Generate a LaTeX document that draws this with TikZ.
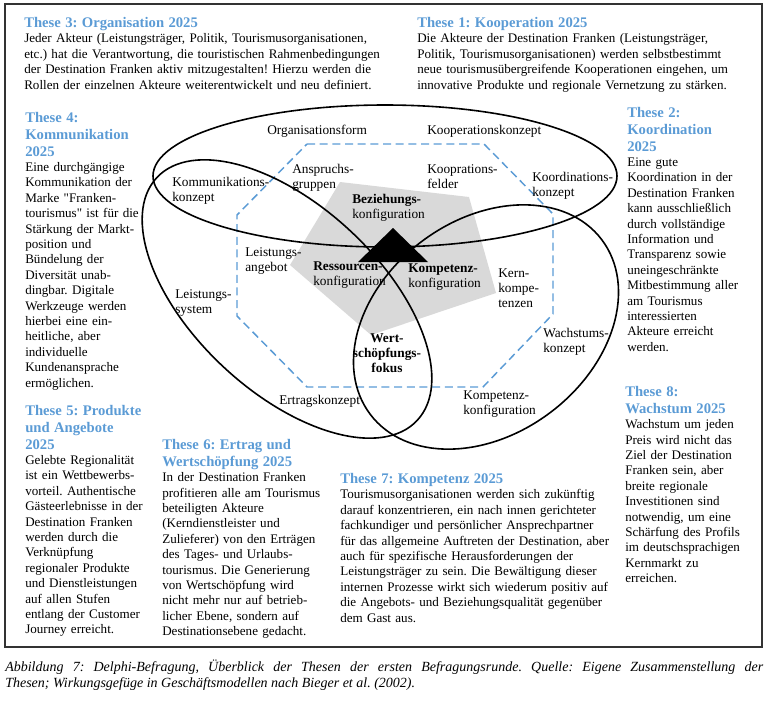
\documentclass[tikz,border=0pt]{standalone}
\usepackage{fontspec}
\setmainfont{Liberation Serif}
\usetikzlibrary{positioning}
\definecolor{headblue}{HTML}{5B9BD5}
\definecolor{konfgrau}{HTML}{D9D9D9}
\frenchspacing
\newcommand{\bodyfont}{\fontsize{9.8}{11.55}\selectfont}
\newcommand{\headfont}{\fontsize{11}{12.6}\selectfont\bfseries}
\newcommand{\lblfont}{\fontsize{10}{11.25}\selectfont}
\newcommand{\capfont}{\fontsize{10.5}{12.4}\selectfont\itshape}
\newcommand{\thesehead}[1]{{\noindent\headfont\color{headblue}#1\par}}
\tikzset{these/.style={anchor=base west,inner sep=0pt,text width=280pt,align=left,font=\bodyfont},
lbl/.style={anchor=base west,inner sep=0pt,text width=90pt,align=left,font=\lblfont},
kreis/.style={line width=1.2pt},
rahmen/.style={draw=headblue,line width=1.1pt,dash pattern=on 6pt off 3.5pt}}

\begin{document}
\begin{tikzpicture}[x=0.75pt,y=-0.75pt]
\useasboundingbox (0,0) rectangle (768,703);
\draw[black!80,line width=1pt] (5,4) rectangle (762,647);
% Konfigurationen
\fill[konfgrau] (340,182) -- (469,197) -- (496,293) -- (371,335) -- (290,265) -- cycle;
\draw[rahmen] (307,144) -- (484,144) -- (553,214) -- (553,314) -- (483,387) -- (307,387) -- (237,316) -- (237,215) -- cycle;
\draw[kreis] (385,176) ellipse [x radius=174pt, y radius=53.25pt];
\draw[kreis,rotate around={-43:(287,299)}] (287,299) ellipse [x radius=133.5pt, y radius=69.75pt];
\draw[kreis,rotate around={37:(486,327)}] (486,327) ellipse [x radius=108.75pt, y radius=80.25pt];
\fill (393,228) -- (428,262) -- (358,262) -- cycle;
% Beschriftung
\node[lbl] (orgform) at (267,134.5) {Organisationsform};
\node[lbl] (koopkonzept) at (427,134.5) {Kooperationskonzept};
\node[lbl] (anspruch) at (292,173.5) {Anspruchs-\\gruppen};
\node[lbl] (koopfelder) at (427,173.5) {Kooprations-\\felder};
\node[lbl] (koordkonzept) at (532,181.5) {Koordinations-\\konzept};
\node[lbl] (kommkonzept) at (172,186.5) {Kommunikations-\\konzept};
\node[lbl] (bezkonf) at (352,203.5) {\textbf{Beziehungs-}\\konfiguration};
\node[lbl] (leistangebot) at (245,256.5) {Leistungs-\\angebot};
\node[lbl] (reskonf) at (313,270.5) {\textbf{Ressourcen-}\\konfiguration};
\node[lbl] (kompkonf) at (408,272.5) {\textbf{Kompetenz-}\\konfiguration};
\node[lbl] (kernkomp) at (498,277.5) {Kern-\\kompe-\\tenzen};
\node[lbl] (leistsystem) at (175,298.5) {Leistungs-\\system};
\node[lbl,anchor=base,align=center,font=\lblfont\bfseries] (wertfokus) at (387,342.5) {Wert-\\schöpfungs-\\fokus};
\node[lbl] (wachskonzept) at (543,337.5) {Wachstums-\\konzept};
\node[lbl] (ertragkonzept) at (279,404.5) {Ertragskonzept};
\node[lbl] (kompkonf2) at (463,399.5) {Kompetenz-\\konfiguration};
% Thesen
\node[these] (t3) at (24,27.5) {\thesehead{These 3: Organisation 2025}
Jeder Akteur (Leistungsträger, Politik, Tourismusorganisationen,\\
etc.) hat die Verantwortung, die touristischen Rahmenbedingungen\\
der Destination Franken aktiv mitzugestalten! Hierzu werden die\\
Rollen der einzelnen Akteure weiterentwickelt und neu definiert.};
\node[these] (t1) at (417,27.5) {\thesehead{These 1: Kooperation 2025}
Die Akteure der Destination Franken (Leistungsträger,\\
Politik, Tourismusorganisationen) werden selbstbestimmt\\
neue tourismusübergreifende Kooperationen eingehen, um\\
innovative Produkte und regionale Vernetzung zu stärken.};
\node[these,text width=110pt] (t4) at (25,122.5) {\thesehead{These 4:\\Kommunikation\\2025}
Eine durchgängige\\ Kommunikation der\\ Marke \textquotedbl Franken-\\ tourismus\textquotedbl{} ist für die\\
Stärkung der Markt-\\ position und\\ Bündelung der\\ Diversität unab-\\ dingbar. Digitale\\
Werkzeuge werden\\ hierbei eine ein-\\ heitliche, aber\\ individuelle\\ Kundenansprache\\ ermöglichen.};
\node[these,text width=110pt] (t2) at (627,117.5) {\thesehead{These 2:\\Koordination\\2025}
Eine gute\\ Koordination in der\\ Destination Franken\\ kann ausschließlich\\ durch vollständige\\
Information und\\ Transparenz sowie\\ uneingeschränkte\\ Mitbestimmung aller\\ am Tourismus\\
interessierten\\ Akteure erreicht\\ werden.};
\node[these,text width=110pt] (t5) at (25,415.5) {\thesehead{These 5: Produkte\\und Angebote\\2025}
Gelebte Regionalität\\ ist ein Wettbewerbs-\\ vorteil. Authentische\\ Gästeerlebnisse in der\\
Destination Franken\\ werden durch die\\ Verknüpfung\\ regionaler Produkte\\ und Dienstleistungen\\
auf allen Stufen\\ entlang der Customer\\ Journey erreicht.};
\node[these,text width=130pt] (t6) at (162,449.5) {\thesehead{These 6: Ertrag und\\Wertschöpfung 2025}
In der Destination Franken\\ profitieren alle am Tourismus\\ beteiligten Akteure\\ (Kerndienstleister und\\
Zulieferer) von den Erträgen\\ des Tages- und Urlaubs-\\ tourismus. Die Generierung\\ von Wertschöpfung wird\\
nicht mehr nur auf betrieb-\\ licher Ebene, sondern auf\\ Destinationsebene gedacht.};
\node[these,text width=230pt] (t7) at (340,483.5) {\thesehead{These 7: Kompetenz 2025}
Tourismusorganisationen werden sich zukünftig\\ darauf konzentrieren, ein nach innen gerichteter\\
fachkundiger und persönlicher Ansprechpartner\\ für das allgemeine Auftreten der Destination, aber\\
auch für spezifische Herausforderungen der\\ Leistungsträger zu sein. Die Bewältigung dieser\\
internen Prozesse wirkt sich wiederum positiv auf\\ die Angebots- und Beziehungsqualität gegenüber\\ dem Gast aus.};
\node[these,text width=110pt] (t8) at (625,396.5) {\thesehead{These 8:\\Wachstum 2025}
Wachstum um jeden\\ Preis wird nicht das\\ Ziel der Destination\\ Franken sein, aber\\ breite regionale\\
Investitionen sind\\ notwendig, um eine\\ Schärfung des Profils\\ im deutschsprachigen\\ Kernmarkt zu\\ erreichen.};
% Abbildungsunterschrift
\node[anchor=base west,inner sep=0pt,text width=568.5pt,align=justify,font=\capfont] (abb) at (5,671)
{Abbildung 7: Delphi-Befragung, Überblick der Thesen der ersten Befragungsrunde. Quelle: Eigene Zusammenstellung der\linebreak
Thesen; Wirkungsgefüge in Geschäftsmodellen nach Bieger et al. (2002).};
\end{tikzpicture}
\end{document}
